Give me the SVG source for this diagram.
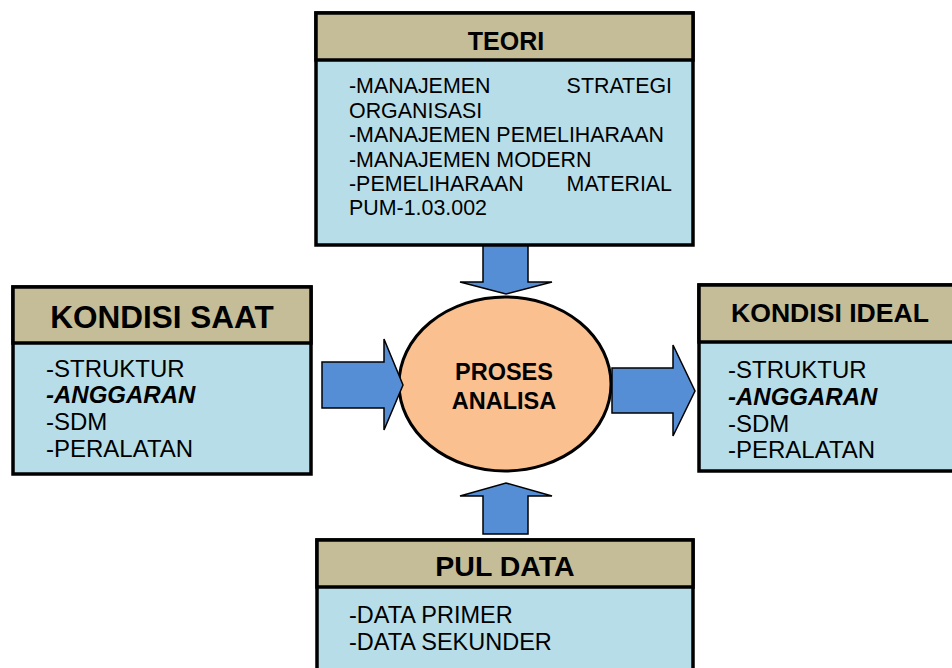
<svg xmlns="http://www.w3.org/2000/svg" width="952" height="668" viewBox="0 0 952 668">
<style>
.box{fill:#b7dee8;stroke:#000;stroke-width:3.5}
.hdr{fill:#c4bd97;stroke:#000;stroke-width:3.5}
.ttl{font-family:"Liberation Sans",Arial,sans-serif;font-weight:bold;fill:#000;text-anchor:middle}
.txt{font-family:"Liberation Sans",Arial,sans-serif;fill:#000}
.arr{fill:#558ed5;stroke:#000;stroke-width:1.5;stroke-linejoin:miter}
</style>
<rect x="0" y="0" width="952" height="668" fill="#fff"/>
<g id="teori">
<rect class="box" x="316" y="13" width="377" height="232"/>
<rect class="hdr" x="316" y="13" width="377" height="47"/>
<text class="ttl" x="506" y="50" font-size="25">TEORI</text>
<g class="txt" font-size="21.4">
<text x="349" y="93">-MANAJEMEN</text><text x="672" y="93" text-anchor="end">STRATEGI</text>
<text x="349" y="118">ORGANISASI</text>
<text x="349" y="142">-MANAJEMEN PEMELIHARAAN</text>
<text x="349" y="167">-MANAJEMEN MODERN</text>
<text x="349" y="191">-PEMELIHARAAN</text><text x="672" y="191" text-anchor="end">MATERIAL</text>
<text x="349" y="215">PUM-1.03.002</text>
</g>
</g>
<g id="kondisi-saat">
<rect class="box" x="13" y="287" width="298" height="187"/>
<rect class="hdr" x="13" y="287" width="298" height="56"/>
<text class="ttl" x="162" y="328" font-size="31.5">KONDISI SAAT</text>
<g class="txt" font-size="24">
<text x="46" y="377">-STRUKTUR</text>
<text x="46" y="403" font-weight="bold" font-style="italic">-ANGGARAN</text>
<text x="46" y="430">-SDM</text>
<text x="46" y="457">-PERALATAN</text>
</g>
</g>
<g id="kondisi-ideal">
<rect class="box" x="699" y="285" width="270" height="186"/>
<rect class="hdr" x="699" y="285" width="270" height="57"/>
<text class="ttl" x="830" y="322" font-size="26.6">KONDISI IDEAL</text>
<g class="txt" font-size="24">
<text x="728" y="378">-STRUKTUR</text>
<text x="728" y="405" font-weight="bold" font-style="italic">-ANGGARAN</text>
<text x="728" y="432">-SDM</text>
<text x="728" y="458">-PERALATAN</text>
</g>
</g>
<g id="pul-data">
<rect class="box" x="317" y="540" width="376" height="140"/>
<rect class="hdr" x="317" y="540" width="376" height="47"/>
<text class="ttl" x="505" y="576" font-size="28.5">PUL DATA</text>
<g class="txt" font-size="23.5">
<text x="349" y="623">-DATA PRIMER</text>
<text x="349" y="650">-DATA SEKUNDER</text>
</g>
</g>
<g id="proses-analisa">
<ellipse cx="505" cy="384" rx="106" ry="87" fill="#fac090" stroke="#000" stroke-width="3"/>
<text class="ttl" x="504" y="380" font-size="23.5">PROSES</text>
<text class="ttl" x="504" y="409" font-size="23.5">ANALISA</text>
</g>
<g id="connectors">
<polygon class="arr" points="483,246 528,246 528,282 552,282 506,294 460,282 483,282"/>
<polygon class="arr" points="483,534 528,534 528,496 552,496 506,483 460,496 483,496"/>
<polygon class="arr" points="322,362 384,362 384,339 403,385 384,430 384,408 322,408"/>
<polygon class="arr" points="612,368 673,368 673,345 695,391 673,436 673,413 612,413"/>
</g>
</svg>
